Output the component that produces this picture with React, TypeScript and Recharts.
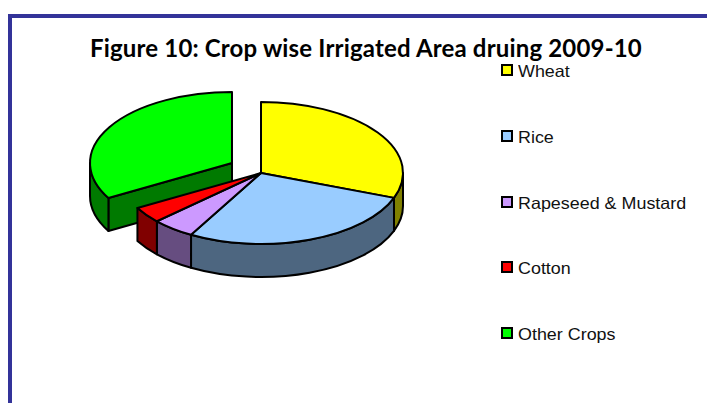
import React from 'react';
import { PieChart, Pie, Legend } from 'recharts';

const crops = ['Wheat', 'Rice', 'Rapeseed & Mustard', 'Cotton', 'Other Crops'];
const shares = [30.7, 27.5, 4.9, 3.7, 33.2];
const topColors = ['#ffff00', '#99ccff', '#cc99ff', '#ff0000', '#00ff00'];
const sideColors = ['#808000', '#4d6680', '#664d80', '#800000', '#007a00'];

const data = crops.map((name, i) => ({ name, value: shares[i], fill: topColors[i], side: sideColors[i] }));

const FLATTEN = 0.5;
const DEPTH = 33;
const EXPLODED = 'Other Crops';
const EXPLODE_DX = -29;
const EXPLODE_DY = -10;

const wallStyle = { stroke: '#000', strokeWidth: 2, strokeLinejoin: 'round' as const };

function geometry(props: any) {
  const exploded = props.name === EXPLODED || props.payload?.name === EXPLODED;
  const cx = props.cx + (exploded ? EXPLODE_DX : 0);
  const cy = props.cy + (exploded ? EXPLODE_DY : 0);
  const rx = props.outerRadius;
  const ry = props.outerRadius * FLATTEN;
  const at = (deg: number) => {
    const a = (deg * Math.PI) / 180;
    return [cx + rx * Math.cos(a), cy - ry * Math.sin(a)];
  };
  return { exploded, cx, cy, rx, ry, at };
}

function Top(props: any) {
  const { cx, cy, rx, ry, at } = geometry(props);
  const [x0, y0] = at(props.startAngle);
  const [x1, y1] = at(props.endAngle);
  const large = Math.abs(props.startAngle - props.endAngle) > 180 ? 1 : 0;
  return (
    <path
      d={`M${cx},${cy}L${x0},${y0}A${rx},${ry} 0 ${large} 1 ${x1},${y1}Z`}
      fill={props.payload?.fill ?? props.fill}
      {...wallStyle}
    />
  );
}

function Wall(props: any) {
  const { exploded, cx, cy, rx, ry, at } = geometry(props);
  const side = props.payload?.side ?? props.side;
  const from = Math.min(props.startAngle, 0);
  const to = Math.max(props.endAngle, -180);
  const parts: React.ReactNode[] = [];
  if (exploded) {
    const [x, y] = at(props.startAngle);
    parts.push(
      <path key="face" d={`M${cx},${cy}L${x},${y}L${x},${y + DEPTH}L${cx},${cy + DEPTH}Z`} fill={side} {...wallStyle} />
    );
  }
  if (from > to) {
    const [x0, y0] = at(from);
    const [x1, y1] = at(to);
    parts.push(
      <path
        key="rim"
        d={`M${x0},${y0}A${rx},${ry} 0 0 1 ${x1},${y1}L${x1},${y1 + DEPTH}A${rx},${ry} 0 0 0 ${x0},${y0 + DEPTH}Z`}
        fill={side}
        {...wallStyle}
      />
    );
  }
  return <g>{parts}</g>;
}

function isExploded(props: any) {
  return (props.payload?.name ?? props.name) === EXPLODED;
}

const ExplodedWall = (props: any) => (isExploded(props) ? <Wall {...props} /> : <g />);
const StandingWall = (props: any) => (isExploded(props) ? <g /> : <Wall {...props} />);

function CropLegend() {
  return (
    <div>
      {data.map((d) => (
        <div key={d.name} style={{ height: 65.75, display: 'flex', alignItems: 'flex-start' }}>
          <span
            style={{
              width: 8,
              height: 8,
              marginTop: 4,
              border: '2px solid #000',
              background: d.fill,
              display: 'inline-block',
              flex: 'none',
            }}
          />
          <span
            style={{
              marginLeft: 5,
              marginTop: 1,
              fontFamily: '"Liberation Sans", Arial, sans-serif',
              fontSize: 16.5,
              lineHeight: '20px',
              color: '#111',
              whiteSpace: 'nowrap',
              display: 'inline-block',
              transform: 'scaleX(1.085)',
              transformOrigin: 'left center',
            }}
          >
            {d.name}
          </span>
        </div>
      ))}
    </div>
  );
}

export default function App() {
  const pieProps = {
    data,
    dataKey: 'value',
    nameKey: 'name',
    cx: 261,
    cy: 173,
    outerRadius: 142,
    startAngle: 90,
    endAngle: -270,
    isAnimationActive: false,
  };
  return (
    <div style={{ position: 'absolute', left: 0, top: 0, width: 707, height: 403, overflow: 'hidden', background: '#fff' }}>
      <div
        style={{
          position: 'absolute',
          left: 8,
          top: 14,
          right: 0,
          bottom: 0,
          borderLeft: '4px solid #333399',
          borderTop: '4px solid #333399',
        }}
      />
      <PieChart
        width={707}
        height={403}
        margin={{ top: 0, right: 0, bottom: 0, left: 0 }}
        style={{ position: 'absolute', left: 0, top: 0 }}
      >
        <Pie {...pieProps} legendType="none" shape={ExplodedWall} />
        <Pie {...pieProps} legendType="none" shape={StandingWall} />
        <Pie {...pieProps} shape={Top} />
        <Legend
          content={<CropLegend />}
          wrapperStyle={{ position: 'absolute', left: 501, top: 60, width: 200, bottom: 'auto' }}
        />
      </PieChart>
      <div
        style={{
          position: 'absolute',
          left: 90,
          top: 37,
          whiteSpace: 'nowrap',
          fontFamily: 'Lato, sans-serif',
          fontWeight: 700,
          fontSize: 24,
          letterSpacing: 0.17,
          lineHeight: '22px',
          color: '#000',
        }}
      >
        Figure 10: Crop wise Irrigated Area druing 2009-10
      </div>
    </div>
  );
}
